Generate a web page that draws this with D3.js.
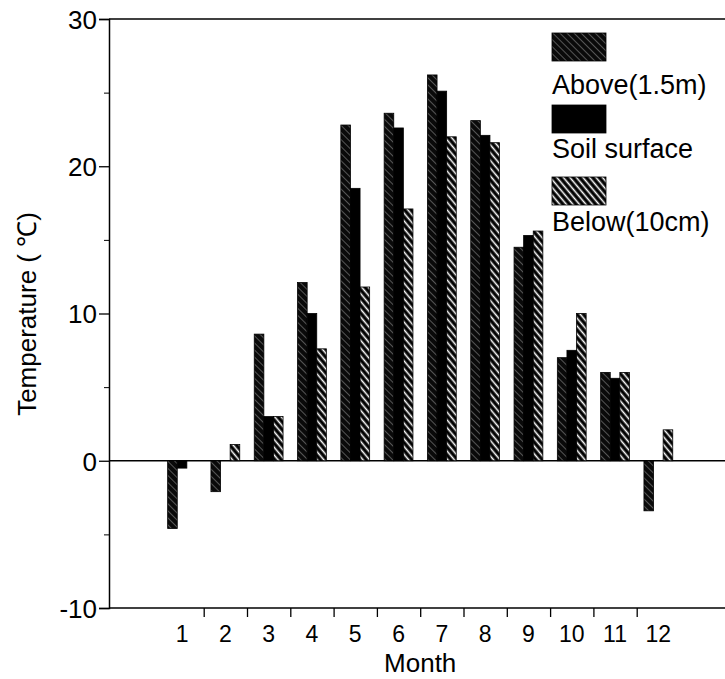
<!DOCTYPE html>
<html><head><meta charset="utf-8">
<script src="https://cdn.jsdelivr.net/npm/d3@7"></script>
<style>body{margin:0;background:#fff}svg{display:block}text{font-family:"Liberation Sans",Arial,sans-serif;fill:#000}</style>
</head><body><svg id="c" width="725" height="679"></svg>
<script>
const months = [1,2,3,4,5,6,7,8,9,10,11,12];
const above = [-4.6,-2.1,8.6,12.1,22.8,23.6,26.2,23.1,14.5,7.0,6.0,-3.4];
const soil  = [-0.5,0,3.0,10.0,18.5,22.6,25.1,22.1,15.3,7.5,5.6,0];
const below = [0,1.1,3.0,7.6,11.8,17.1,22.0,21.6,15.6,10.0,6.0,2.1];
const seriesNames = ["Above(1.5m)","Soil surface","Below(10cm)"];
const yTicks = [-10,0,10,20,30];
const yMinor = [-5,5,15,25];

const svg = d3.select("#c");
const axX = 109, right = 725;
const y = d3.scaleLinear().domain([-10,30]).range([608,19]);
const x = d3.scaleLinear().domain([0.5,12.5]).range([160.4,680]);
const bw = 9.6;

const defs = svg.append("defs");
const pA = defs.append("pattern").attr("id","pA").attr("patternUnits","userSpaceOnUse")
  .attr("width",5).attr("height",5).attr("patternTransform","rotate(45)");
pA.append("rect").attr("width",5).attr("height",5).attr("fill","#0a0a0a");
pA.append("line").attr("x1",0).attr("x2",5).attr("y1",2.5).attr("y2",2.5)
  .attr("stroke","#6a6a6a").attr("stroke-width",0.8);
const pB = defs.append("pattern").attr("id","pB").attr("patternUnits","userSpaceOnUse")
  .attr("width",5).attr("height",5).attr("patternTransform","rotate(50)");
pB.append("rect").attr("width",5).attr("height",5).attr("fill","#000");
pB.append("line").attr("x1",0).attr("x2",5).attr("y1",2.5).attr("y2",2.5)
  .attr("stroke","#fff").attr("stroke-width",1.6);
const fills = ["url(#pA)","#000","url(#pB)"];
const data = [above,soil,below];

// frame lines
[30,-10,0].forEach(v=>{
  svg.append("line").attr("x1",axX).attr("x2",right).attr("y1",y(v)).attr("y2",y(v))
    .attr("stroke","#000").attr("stroke-width",1.5);
});

// bars
data.forEach((arr,si)=>{
  svg.append("g").selectAll("rect").data(arr).join("rect")
    .attr("x",(d,i)=>x(months[i]) - 1.5*bw + si*bw)
    .attr("width",bw)
    .attr("y",d=>Math.min(y(d),y(0)))
    .attr("height",d=>Math.abs(y(d)-y(0)))
    .attr("fill",fills[si]).attr("stroke","#000").attr("stroke-width",0.8);
});

// y axis
const ya = svg.append("g").attr("transform",`translate(${axX},0)`)
  .call(d3.axisLeft(y).tickValues(yTicks).tickSize(10).tickPadding(2).tickFormat(d=>String(d)));
ya.select(".domain").attr("stroke-width",1.5);
ya.selectAll(".tick line").attr("stroke-width",1.3);
ya.selectAll("text").style("font-size","26px").style("font-family","Liberation Sans, Arial, sans-serif").attr("dy","0.36em");
svg.append("g").attr("transform",`translate(${axX},0)`)
  .call(d3.axisLeft(y).tickValues(yMinor).tickSize(5).tickFormat(""))
  .select(".domain").remove();

// x axis
const xa = svg.append("g").attr("transform",`translate(0,${y(-10)})`)
  .call(d3.axisBottom(x).tickValues(d3.range(1.5,12,1)).tickSize(9).tickFormat(""));
xa.select(".domain").remove();
xa.selectAll(".tick line").attr("stroke-width",1.3);
svg.append("g").selectAll("text").data(months).join("text")
  .attr("x",d=>x(d)).attr("y",642).attr("text-anchor","middle")
  .style("font-size","23px").text(d=>d);

svg.append("text").attr("x",x(6.5)).attr("y",672).attr("text-anchor","middle")
  .style("font-size","26px").text("Month");
svg.append("text").attr("transform","translate(36,314) rotate(-90)")
  .attr("text-anchor","middle").style("font-size","26px").text("Temperature ( ℃)");

// legend
const lg = [{sy:33,ty:94},{sy:105,ty:158},{sy:177,ty:231}];
lg.forEach((l,i)=>{
  svg.append("rect").attr("x",552).attr("y",l.sy).attr("width",54).attr("height",28)
    .attr("fill",fills[i]).attr("stroke","#000").attr("stroke-width",0.8);
  svg.append("text").attr("x",552).attr("y",l.ty).style("font-size","27px").text(seriesNames[i]);
});
</script></body></html>
